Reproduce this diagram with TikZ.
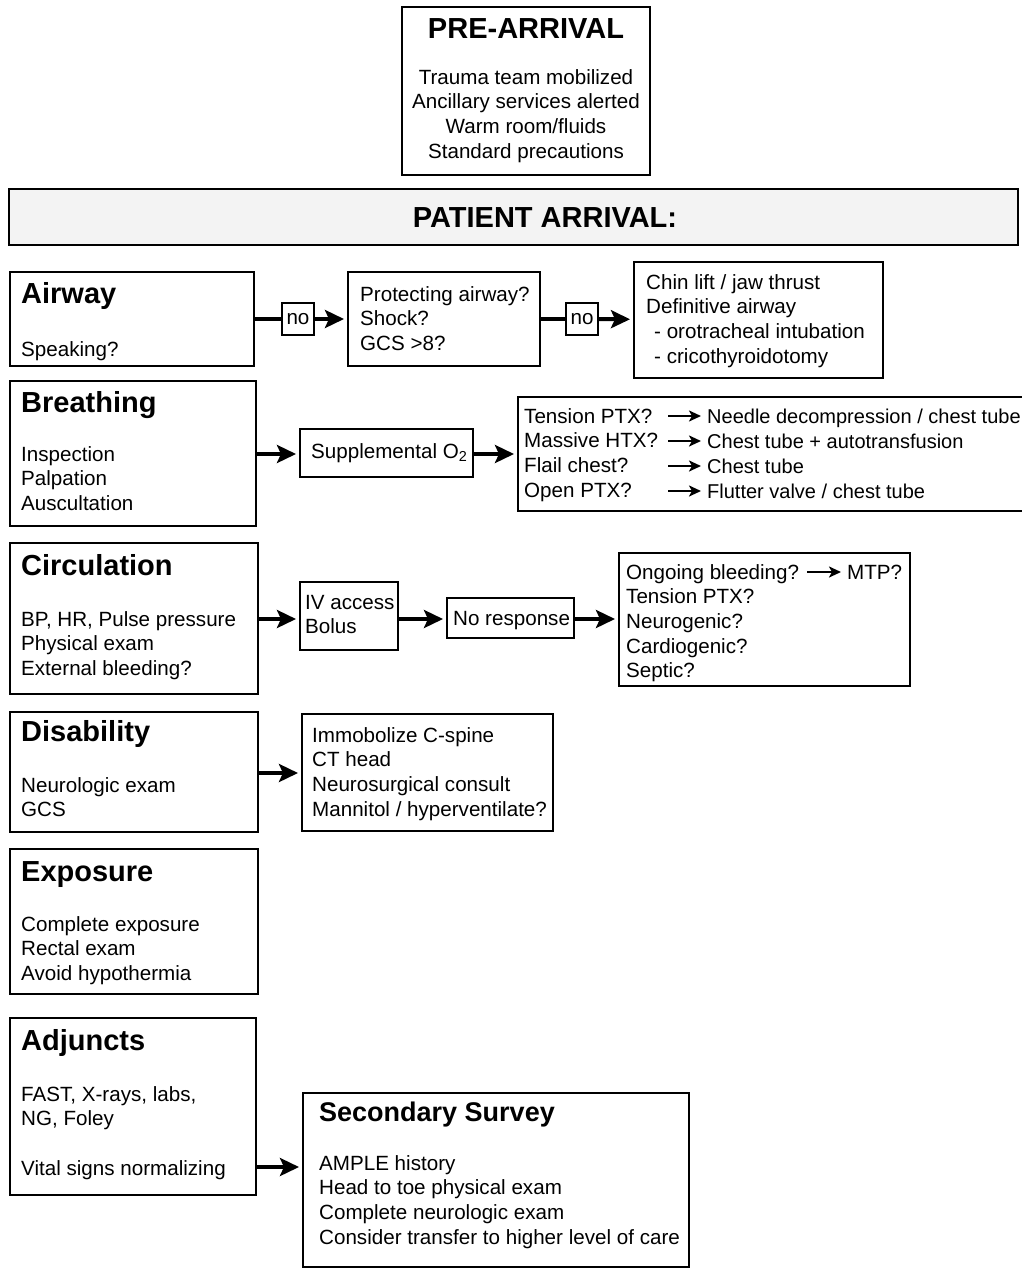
\documentclass[tikz,border=0pt]{standalone}
\usepackage{fontspec}
\setmainfont{Liberation Sans}
\usetikzlibrary{arrows.meta}
\definecolor{bandgray}{RGB}{243,243,243}
\newcommand\mylines[1]{\begin{tabular}[t]{@{}l@{}}#1\end{tabular}}
\newcommand\mycenter[1]{\begin{tabular}[t]{@{}c@{}}#1\end{tabular}}
\newcommand\mkbox[6][]{\node[boxst,anchor=north west,minimum width={#4-#2},minimum height={#5-#3},#1] (#6) at (#2,#3) {};}
\tikzset{
  boxst/.style={draw, line width=1.5pt, inner sep=0pt, outer sep=0pt},
  titlest/.style={anchor=base west, inner sep=0pt, font=\fontsize{29}{32}\selectfont\bfseries},
  txt/.style={anchor=base west, inner sep=0pt, font=\fontsize{20.6}{24.7}\selectfont},
  rtxt/.style={anchor=base west, inner sep=0pt, font=\fontsize{20}{24.7}\selectfont},
  nobox/.style={draw, line width=1.5pt, inner sep=0pt, outer sep=0pt, minimum width=32pt, minimum height=32pt, font=\fontsize{20.6}{24.7}\selectfont},
  plainline/.style={line width=4pt},
  bigarrow/.style={line width=4pt, -{Stealth[length=19pt,width=18pt,inset=4pt]}, shorten >=4pt},
  smallarrow/.style={line width=2.6pt, -{Stealth[length=12pt,width=11pt,inset=3pt]}, shorten >=6pt}
}
\begin{document}
\begin{tikzpicture}[x=1pt,y=-1pt]
\useasboundingbox (0,0) rectangle (1022,1269);
% boxes
\mkbox{402}{7}{650}{175}{pre}
\mkbox[fill=bandgray]{9}{189}{1018}{245}{arrival}
\mkbox{10}{272}{254}{366}{airway}
\mkbox{348}{272}{540}{366}{prot}
\mkbox{634}{262}{883}{378}{chin}
\mkbox{10}{381}{256}{526}{breath}
\mkbox{300}{429}{473}{477}{supp}
\mkbox{518}{397}{1034}{511}{ptx}
\mkbox{10}{543}{258}{694}{circ}
\mkbox{300}{582}{398}{650}{iv}
\mkbox{447}{598}{574}{638}{noresp}
\mkbox{619}{553}{910}{686}{shock}
\mkbox{10}{712}{258}{832}{dis}
\mkbox{302}{714}{553}{831}{disbox}
\mkbox{10}{849}{258}{994}{expo}
\mkbox{10}{1018}{256}{1195}{adj}
\mkbox{303}{1093}{689}{1267}{sec}
\node[nobox] (no1) at (298,319) {no};
\node[nobox] (no2) at (582,319) {no};
% texts
\node[titlest,anchor=base] (preT) at (526,38) {PRE-ARRIVAL};
\node[txt,anchor=base] (preB) at (526,84) {\mycenter{Trauma team mobilized\\Ancillary services alerted\\Warm room/fluids\\Standard precautions}};
\node[titlest,anchor=base] (arrT) at (545,227) {PATIENT ARRIVAL:};
\node[titlest] (airT) at (21,303) {Airway};
\node[txt] (airB) at (21,356) {Speaking?};
\node[txt] (protB) at (360,301) {\mylines{Protecting airway?\\Shock?\\GCS >8?}};
\node[txt] (chinB) at (646,289) {\mylines{Chin lift / jaw thrust\\Definitive airway\\\hspace*{8pt}- orotracheal intubation\\\hspace*{8pt}- cricothyroidotomy}};
\node[titlest] (brT) at (21,412) {Breathing};
\node[txt] (brB) at (21,461) {\mylines{Inspection\\Palpation\\Auscultation}};
\node[txt] (suppB) at (311,458) {Supplemental O\textsubscript{2}};
\node[txt] (ptxL) at (524,423) {\mylines{Tension PTX?\\Massive HTX?\\Flail chest?\\Open PTX?}};
\node[rtxt] (r1) at (707,423) {Needle decompression / chest tube};
\node[rtxt] (r2) at (707,448) {Chest tube + autotransfusion};
\node[rtxt] (r3) at (707,473) {Chest tube};
\node[rtxt] (r4) at (707,498) {Flutter valve / chest tube};
\node[titlest] (ciT) at (21,575) {Circulation};
\node[txt] (ciB) at (21,626) {\mylines{BP, HR, Pulse pressure\\Physical exam\\External bleeding?}};
\node[txt] (ivB) at (305,609) {\mylines{IV access\\Bolus}};
\node[txt] (nrB) at (453,625) {No response};
\node[txt] (shB) at (626,579) {\mylines{Ongoing bleeding?\\Tension PTX?\\Neurogenic?\\Cardiogenic?\\Septic?}};
\node[txt] (mtp) at (847,579) {MTP?};
\node[titlest] (diT) at (21,741) {Disability};
\node[txt] (diB) at (21,792) {\mylines{Neurologic exam\\GCS}};
\node[txt] (dbB) at (312,742) {\mylines{Immobolize C-spine\\CT head\\Neurosurgical consult\\Mannitol / hyperventilate?}};
\node[titlest] (exT) at (21,881) {Exposure};
\node[txt] (exB) at (21,931) {\mylines{Complete exposure\\Rectal exam\\Avoid hypothermia}};
\node[titlest] (adT) at (21,1050) {Adjuncts};
\node[txt] (adB) at (21,1101) {\mylines{FAST, X-rays, labs,\\NG, Foley\\ \\Vital signs normalizing}};
\node[titlest,font=\fontsize{27}{30}\selectfont\bfseries] (seT) at (319,1121) {Secondary Survey};
\node[txt] (seB) at (319,1170) {\mylines{AMPLE history\\Head to toe physical exam\\Complete neurologic exam\\Consider transfer to higher level of care}};
% connectors
\draw[plainline] (airway) -- (no1);
\draw[bigarrow] (no1) -- (prot);
\draw[plainline] (prot) -- (no2);
\draw[bigarrow] (no2) -- (chin);
\coordinate (brY) at (0,454);
\draw[bigarrow] (breath.east |- brY) -- (supp.west |- brY);
\draw[bigarrow] (supp.east |- brY) -- (ptx.west |- brY);
\coordinate (ciY) at (0,619);
\draw[bigarrow] (circ.east |- ciY) -- (iv.west |- ciY);
\draw[bigarrow] (iv.east |- ciY) -- (noresp.west |- ciY);
\draw[bigarrow] (noresp.east |- ciY) -- (shock.west |- ciY);
\coordinate (diY) at (0,773);
\draw[bigarrow] (dis.east |- diY) -- (disbox.west |- diY);
\coordinate (adY) at (0,1167);
\draw[bigarrow] (adj.east |- adY) -- (sec.west |- adY);
% small arrows
\coordinate (a1) at (668,416);
\coordinate (a2) at (668,441);
\coordinate (a3) at (668,466);
\coordinate (a4) at (668,491);
\draw[smallarrow] (a1) -- (a1 -| r1.west);
\draw[smallarrow] (a2) -- (a2 -| r2.west);
\draw[smallarrow] (a3) -- (a3 -| r3.west);
\draw[smallarrow] (a4) -- (a4 -| r4.west);
\coordinate (am) at (807,572);
\draw[smallarrow] (am) -- (am -| mtp.west);
\end{tikzpicture}
\end{document}
